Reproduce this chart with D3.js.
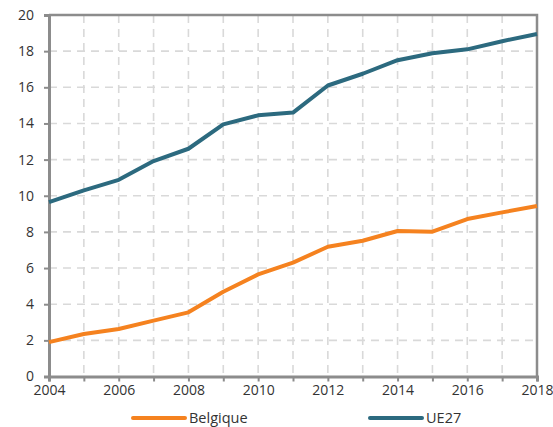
<!DOCTYPE html>
<html>
<head>
<meta charset="utf-8">
<script src="https://cdn.jsdelivr.net/npm/d3@7"></script>
<style>
  html, body { margin: 0; padding: 0; background: #fff; }
  svg { display: block; }
  text { font-family: "Open Sans", "DejaVu Sans", sans-serif; fill: #333; }
</style>
</head>
<body>
<svg id="chart" width="553" height="427"></svg>
<script>
// Part des énergies renouvelables (%), 2004–2018
const years = [2004, 2005, 2006, 2007, 2008, 2009, 2010, 2011, 2012, 2013, 2014, 2015, 2016, 2017, 2018];
const belgique = [1.9, 2.35, 2.63, 3.09, 3.55, 4.69, 5.65, 6.3, 7.18, 7.51, 8.05, 8.01, 8.71, 9.08, 9.43];
const ue27 = [9.65, 10.3, 10.88, 11.92, 12.6, 13.95, 14.45, 14.6, 16.1, 16.75, 17.5, 17.88, 18.1, 18.55, 18.95];
const xTickLabels = [2004, 2006, 2008, 2010, 2012, 2014, 2016, 2018];
const yTickValues = [0, 2, 4, 6, 8, 10, 12, 14, 16, 18, 20];
const seriesNames = ["Belgique", "UE27"];
const seriesColors = ["#f5821f", "#2c6a7f"];

const svg = d3.select("#chart");
const plotLeft = 49, plotRight = 537, plotTop = 15, plotBottom = 376.5;

const x = d3.scaleLinear().domain([2004, 2018]).range([plotLeft, plotRight]);
const y = d3.scaleLinear().domain([0, 20]).range([plotBottom, plotTop]);

// grid
const grid = svg.append("g")
  .attr("stroke", "#d9d9d9").attr("stroke-width", 1.6)
  .attr("stroke-dasharray", "8,6");
grid.selectAll("line.v").data(years.slice(1, -1)).join("line")
  .attr("class", "v")
  .attr("x1", d => x(d)).attr("x2", d => x(d))
  .attr("y1", plotTop).attr("y2", plotBottom);
grid.selectAll("line.h").data(yTickValues.slice(1, -1)).join("line")
  .attr("class", "h")
  .attr("x1", plotLeft).attr("x2", plotRight)
  .attr("y1", d => y(d)).attr("y2", d => y(d));

// frame (top and right)
svg.append("path")
  .attr("d", `M${plotLeft},${y(20)}H${plotRight}V${plotBottom}`)
  .attr("fill", "none").attr("stroke", "#8c8c8c").attr("stroke-width", 2.5);

// axes
const yAxis = d3.axisLeft(y).tickValues(yTickValues).tickSize(5).tickPadding(10).tickFormat(d3.format("d"));
const gy = svg.append("g").attr("transform", `translate(${plotLeft},0)`).call(yAxis);
const xAxis = d3.axisBottom(x).tickValues(years).tickSize(5).tickPadding(3.5)
  .tickFormat(d => xTickLabels.includes(d) ? d : "");
const gx = svg.append("g").attr("transform", `translate(0,${plotBottom})`).call(xAxis);

[gx, gy].forEach(g => {
  g.select(".domain").attr("stroke", "#8c8c8c").attr("stroke-width", 3);
  g.selectAll(".tick line").attr("stroke", "#8c8c8c").attr("stroke-width", 2);
  g.selectAll(".tick text").attr("font-size", 14).attr("fill", "#333")
    .style("font-family", "'Open Sans', 'DejaVu Sans', sans-serif");
});

// lines
const line = d3.line().x((d, i) => x(years[i])).y(d => y(d));
[belgique, ue27].forEach((vals, i) => {
  svg.append("path").datum(vals)
    .attr("fill", "none").attr("stroke", seriesColors[i])
    .attr("stroke-width", 4).attr("stroke-linejoin", "round")
    .attr("d", line);
});

// legend
const legendX = [133, 370];
const legendY = 418;
seriesNames.forEach((name, i) => {
  const g = svg.append("g").attr("transform", `translate(${legendX[i]},${legendY})`);
  g.append("line").attr("x1", 0).attr("x2", 52).attr("y1", 0).attr("y2", 0)
    .attr("stroke", seriesColors[i]).attr("stroke-width", 4).attr("stroke-linecap", "round");
  g.append("text").attr("x", 56).attr("y", 5).attr("font-size", 14.5).text(name);
});
</script>
</body>
</html>
